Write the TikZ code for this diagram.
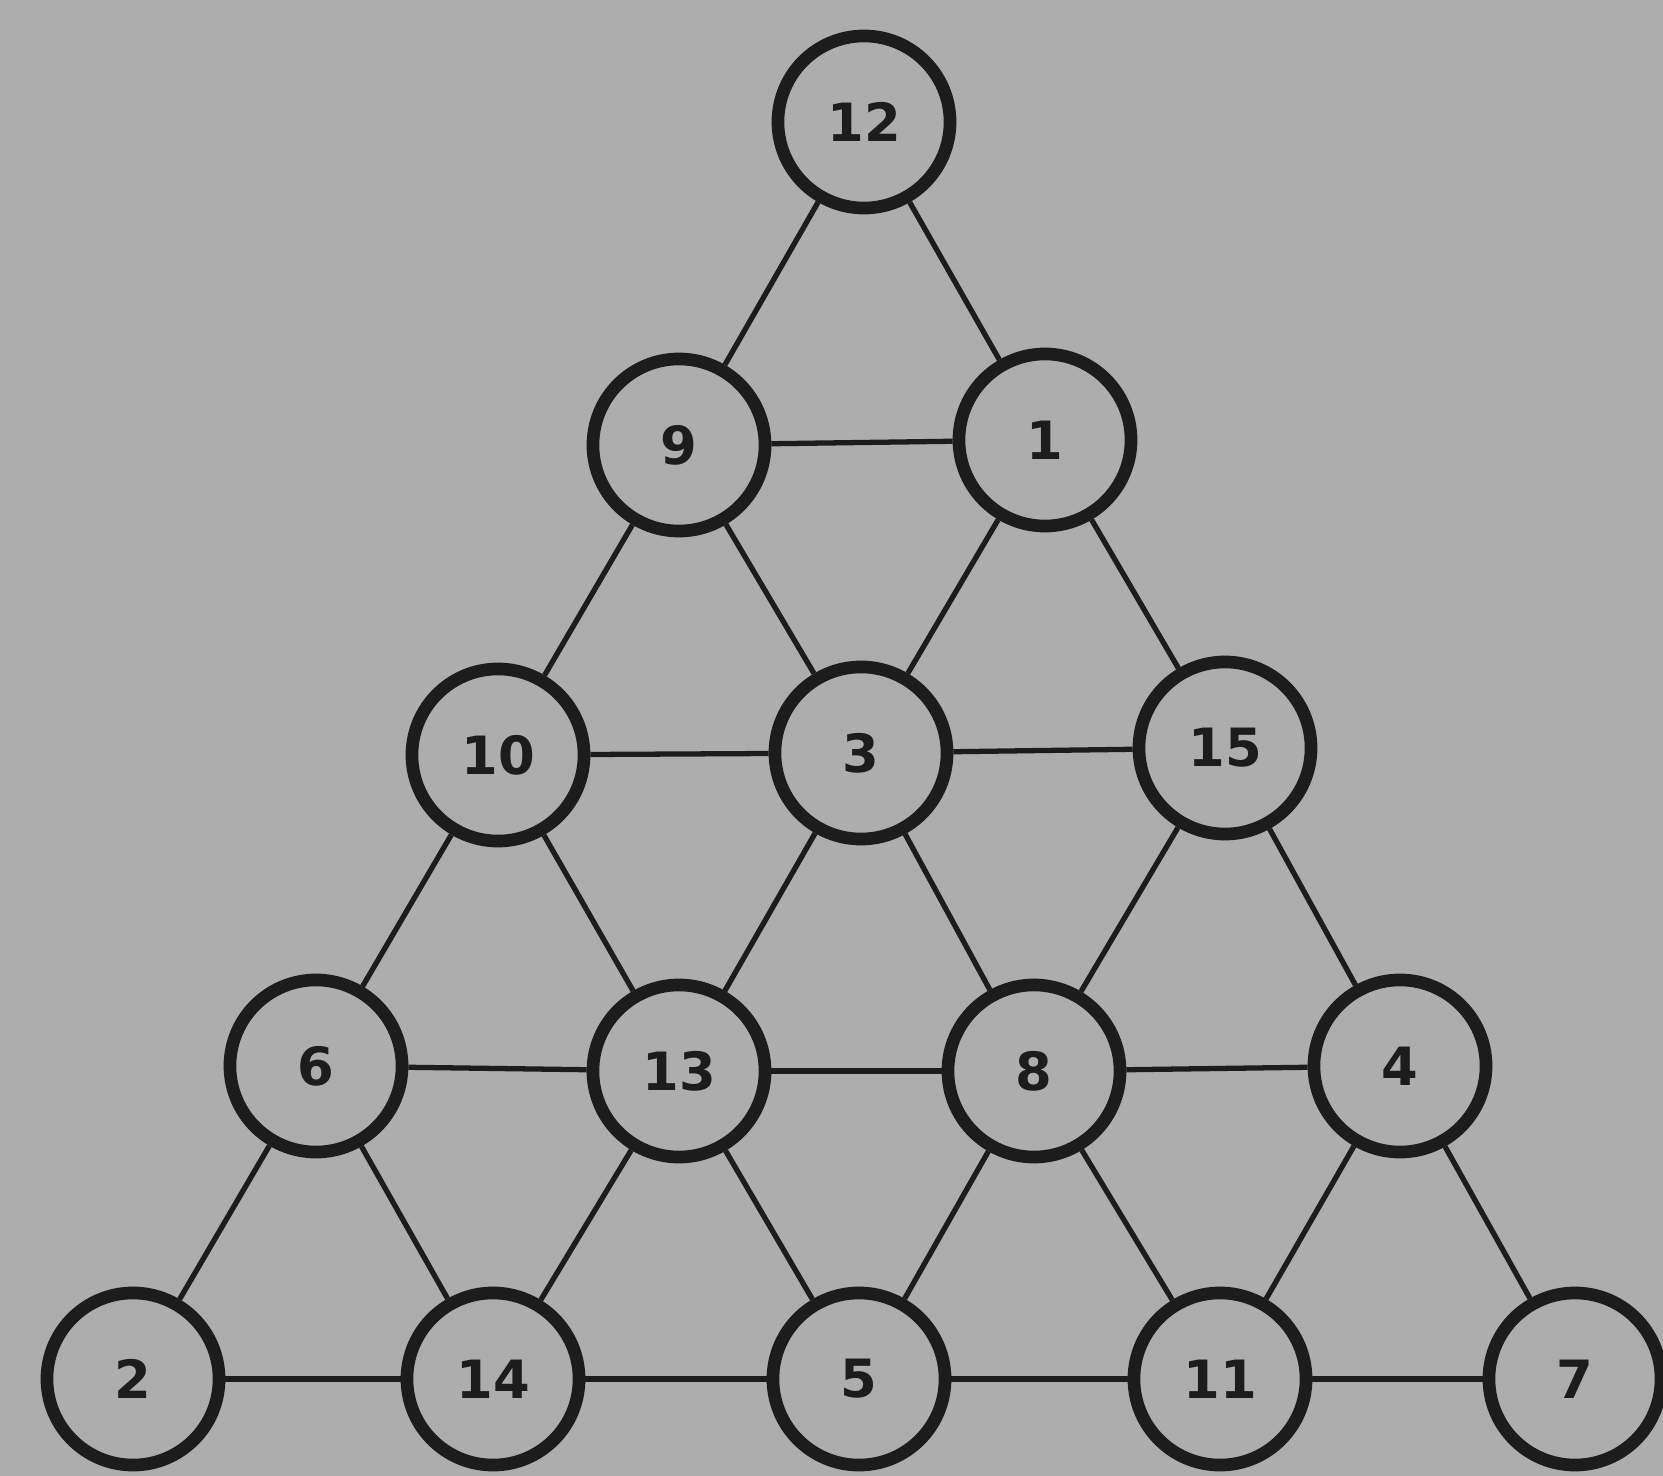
\documentclass[tikz,border=0pt]{standalone}
\usepackage{fontspec}
\setsansfont{DejaVu Sans}
\usepackage{xcolor}
\definecolor{PaperGrey}{HTML}{ADADAD}
\definecolor{InkBlack}{HTML}{1C1C1C}
\tikzset{
    % Circle nodes
    spot/.style={
        circle,
        draw=InkBlack,
        fill=PaperGrey,
        line width=3.6pt,
        minimum size=1.72cm,
        inner sep=0pt,
        font=\sffamily\bfseries\fontsize{15}{15}\selectfont,
        text=InkBlack
    },
    % Connecting lines
    link/.style={
        line width=1.5pt,
        draw=InkBlack
    }
}
\begin{document}
\begin{tikzpicture}[x=0.01cm, y=-0.01cm]
    \fill[PaperGrey] (0,0) rectangle (1663,1476);
    \useasboundingbox (0,0) rectangle (1663,1476);

    % Row 1
    \node[spot] (n12) at (864,122) {12};
    % Row 2
    \node[spot] (n9) at (679,445) {9};
    \node[spot] (n1) at (1045,440) {1};
    % Row 3
    \node[spot] (n10) at (498,755) {10};
    \node[spot] (n3) at (861,753) {3};
    \node[spot] (n15) at (1225,748) {15};
    % Row 4
    \node[spot] (n6) at (316,1066) {6};
    \node[spot] (n13) at (679,1071) {13};
    \node[spot] (n8) at (1034,1071) {8};
    \node[spot] (n4) at (1400,1066) {4};
    % Row 5
    \node[spot] (n2) at (133,1379) {2};
    \node[spot] (n14) at (493,1379) {14};
    \node[spot] (n5) at (859,1379) {5};
    \node[spot] (n11) at (1220,1379) {11};
    \node[spot] (n7) at (1575,1379) {7};

    % Lines
    \draw[link] (n12) -- (n9);
    \draw[link] (n12) -- (n1);
    \draw[link] (n9) -- (n1);
    \draw[link] (n9) -- (n10);
    \draw[link] (n9) -- (n3);
    \draw[link] (n1) -- (n3);
    \draw[link] (n1) -- (n15);
    \draw[link] (n10) -- (n3);
    \draw[link] (n3) -- (n15);
    \draw[link] (n10) -- (n6);
    \draw[link] (n10) -- (n13);
    \draw[link] (n3) -- (n13);
    \draw[link] (n3) -- (n8);
    \draw[link] (n15) -- (n8);
    \draw[link] (n15) -- (n4);
    \draw[link] (n6) -- (n13);
    \draw[link] (n13) -- (n8);
    \draw[link] (n8) -- (n4);
    \draw[link] (n6) -- (n2);
    \draw[link] (n6) -- (n14);
    \draw[link] (n13) -- (n14);
    \draw[link] (n13) -- (n5);
    \draw[link] (n8) -- (n5);
    \draw[link] (n8) -- (n11);
    \draw[link] (n4) -- (n11);
    \draw[link] (n4) -- (n7);
    \draw[link] (n2) -- (n14);
    \draw[link] (n14) -- (n5);
    \draw[link] (n5) -- (n11);
    \draw[link] (n11) -- (n7);
\end{tikzpicture}
\end{document}
